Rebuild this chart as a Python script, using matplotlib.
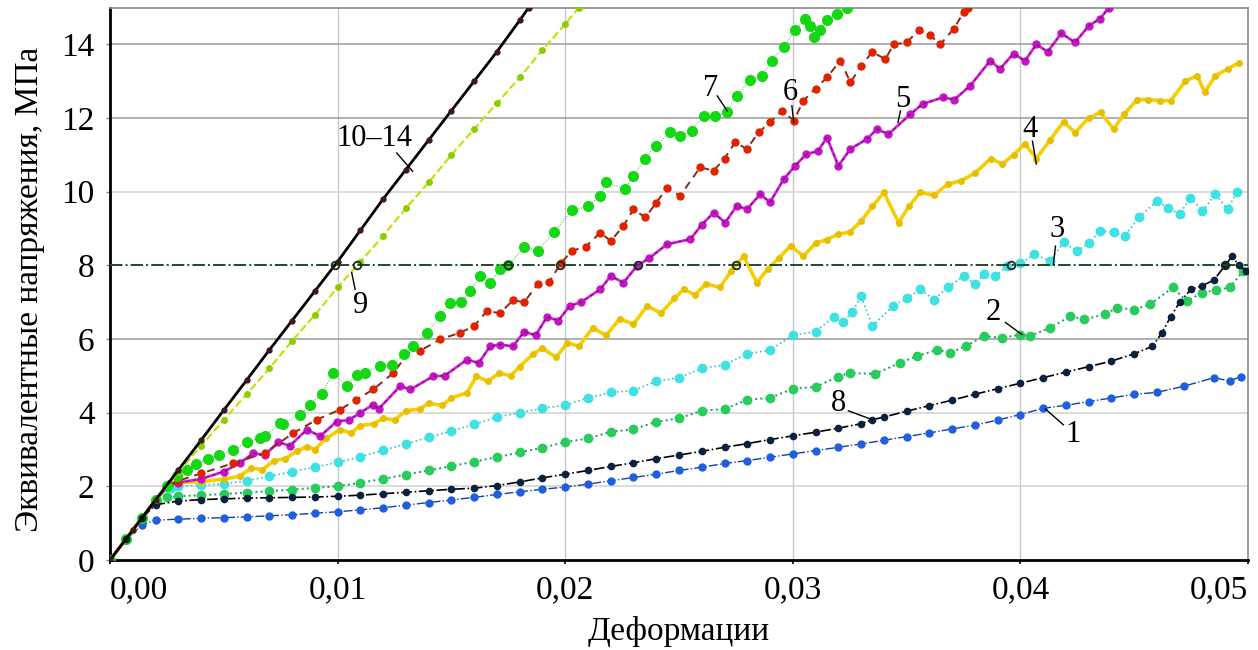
import matplotlib
matplotlib.use("Agg")
import matplotlib.pyplot as plt
import numpy as np

plt.rcParams['font.family'] = ['Liberation Serif', 'DejaVu Serif']

# strain values / equivalent stress (MPa)
x_1 = [0, 0.0007, 0.0014, 0.002, 0.003, 0.004, 0.005, 0.006, 0.007, 0.008, 0.009, 0.010,
       0.011, 0.012, 0.013, 0.014, 0.015, 0.016, 0.017, 0.018, 0.019, 0.020, 0.021, 0.022,
       0.023, 0.024, 0.025, 0.026, 0.027, 0.028, 0.029, 0.030, 0.031, 0.032, 0.033, 0.034,
       0.035, 0.036, 0.037, 0.038, 0.039, 0.040, 0.041, 0.042, 0.043, 0.044, 0.045, 0.046,
       0.0472, 0.0485, 0.0492, 0.0497]
y_1 = [0, 0.55, 0.95, 1.08, 1.11, 1.13, 1.15, 1.17, 1.2, 1.23, 1.27, 1.31,
       1.36, 1.42, 1.49, 1.56, 1.63, 1.7, 1.78, 1.85, 1.92, 1.98, 2.06, 2.15,
       2.24, 2.33, 2.43, 2.52, 2.62, 2.7, 2.79, 2.88, 2.97, 3.06, 3.15, 3.25,
       3.35, 3.45, 3.56, 3.66, 3.8, 3.95, 4.12, 4.2, 4.3, 4.4, 4.5, 4.55,
       4.72, 4.95, 4.86, 4.98]

x_2 = [0, 0.0007, 0.0014, 0.002, 0.0025, 0.003, 0.004, 0.005, 0.006, 0.007, 0.008, 0.009,
       0.010, 0.011, 0.012, 0.013, 0.014, 0.015, 0.016, 0.017, 0.018, 0.019, 0.020, 0.021,
       0.022, 0.023, 0.024, 0.025, 0.026, 0.027, 0.028, 0.029, 0.030, 0.031, 0.032, 0.0325,
       0.0336, 0.0347, 0.03545, 0.03634, 0.0369, 0.0376, 0.03838, 0.0392, 0.040, 0.0404,
       0.0413, 0.0422, 0.0428, 0.0437, 0.04425, 0.0450, 0.0457, 0.0467, 0.0473, 0.048,
       0.0486, 0.0492, 0.0498]
y_2 = [0, 0.57, 1.14, 1.6, 1.7, 1.73, 1.76, 1.79, 1.83, 1.87, 1.91, 1.96,
       2.0, 2.1, 2.2, 2.32, 2.43, 2.55, 2.67, 2.79, 2.92, 3.05, 3.2, 3.3,
       3.48, 3.55, 3.75, 3.85, 4.05, 4.1, 4.35, 4.4, 4.65, 4.7, 4.98, 5.08,
       5.05, 5.35, 5.53, 5.71, 5.63, 5.8, 6.08, 6.03, 6.12, 6.08,
       6.3, 6.62, 6.53, 6.67, 6.85, 6.8, 6.94, 7.4, 7.03, 7.26,
       7.33, 7.4, 7.85]

x_3 = [0, 0.0007, 0.0014, 0.002, 0.0027, 0.003, 0.004, 0.005, 0.006, 0.007, 0.008, 0.009,
       0.010, 0.011, 0.012, 0.013, 0.014, 0.015, 0.016, 0.017, 0.018, 0.019, 0.020, 0.021,
       0.022, 0.023, 0.024, 0.025, 0.026, 0.027, 0.028, 0.029, 0.030, 0.031, 0.0318, 0.0322,
       0.0326, 0.033, 0.0335, 0.0344, 0.035, 0.0356, 0.0362, 0.0368, 0.0375, 0.038, 0.0384,
       0.0389, 0.0394, 0.040, 0.0406, 0.0413, 0.0419, 0.0425, 0.043, 0.0435, 0.0441, 0.0446,
       0.0452, 0.046, 0.0465, 0.047, 0.04747, 0.048, 0.04857, 0.0491, 0.0495]
y_3 = [0, 0.57, 1.14, 1.63, 1.95, 2.0, 2.03, 2.07, 2.15, 2.27, 2.4, 2.52,
       2.65, 2.8, 2.98, 3.15, 3.33, 3.5, 3.68, 3.88, 4.0, 4.12, 4.2, 4.4,
       4.55, 4.6, 4.85, 4.95, 5.2, 5.3, 5.6, 5.7, 6.1, 6.2, 6.6, 6.45,
       6.72, 7.17, 6.35, 6.9, 7.1, 7.35, 7.07, 7.4, 7.71, 7.5, 7.76,
       7.7, 7.98, 8.05, 8.3, 8.12, 8.62, 8.39, 8.6, 8.93, 8.9, 8.8,
       9.3, 9.75, 9.55, 9.39, 9.84, 9.48, 9.93, 9.52, 9.98]

x_4 = [0, 0.0007, 0.0014, 0.002, 0.0026, 0.003, 0.004, 0.005, 0.0057, 0.0062, 0.0067, 0.0072,
       0.0077, 0.0082, 0.00865, 0.009, 0.0095, 0.0101, 0.0106, 0.011, 0.0116, 0.012, 0.0125,
       0.013, 0.0136, 0.014, 0.0146, 0.015, 0.01568, 0.0161, 0.0166, 0.0171, 0.0176, 0.018,
       0.0186, 0.019, 0.0196, 0.0201, 0.0206, 0.0212, 0.0218, 0.0224, 0.023, 0.0236, 0.0242,
       0.0248, 0.0252, 0.0257, 0.0262, 0.0268, 0.0273, 0.02784, 0.02842, 0.0289, 0.0294,
       0.0299, 0.03047, 0.031, 0.0315, 0.032, 0.0325, 0.033, 0.0335, 0.034, 0.03465, 0.0351,
       0.0356, 0.0362, 0.0368, 0.0374, 0.038, 0.0387, 0.0392, 0.0397, 0.0402, 0.0407, 0.0413,
       0.0419, 0.0424, 0.043, 0.04352, 0.0441, 0.04455, 0.04513, 0.0456, 0.04615, 0.0466,
       0.04725, 0.04776, 0.0481, 0.04857, 0.0491, 0.0496]
y_4 = [0, 0.57, 1.14, 1.63, 2.05, 2.1, 2.12, 2.2, 2.27, 2.5, 2.45, 2.7,
       2.75, 2.95, 3.08, 3.0, 3.3, 3.54, 3.45, 3.65, 3.7, 3.85, 3.8,
       4.05, 4.1, 4.25, 4.2, 4.4, 4.54, 4.99, 4.85, 5.08, 5.0, 5.25,
       5.6, 5.75, 5.5, 5.9, 5.8, 6.3, 6.1, 6.55, 6.4, 6.9, 6.7,
       7.1, 7.35, 7.2, 7.5, 7.4, 7.85, 8.25, 7.53, 7.9, 8.2,
       8.53, 8.25, 8.6, 8.7, 8.85, 8.9, 9.2, 9.6, 9.98, 9.16, 9.6,
       9.98, 9.9, 10.2, 10.3, 10.5, 10.9, 10.75, 11.0, 11.3, 10.9, 11.4,
       11.9, 11.6, 12.0, 12.15, 11.7, 12.1, 12.5, 12.5, 12.47, 12.47,
       13.0, 13.15, 12.7, 13.15, 13.33, 13.5]

x_5 = [0, 0.0007, 0.0014, 0.002, 0.0026, 0.003, 0.004, 0.005, 0.0057, 0.0063, 0.0068, 0.0074,
       0.0079, 0.00865, 0.00923, 0.00996, 0.0105, 0.011, 0.01157, 0.0118, 0.01275, 0.0132,
       0.0142, 0.0147, 0.01568, 0.0162, 0.0167, 0.01714, 0.0177, 0.0182, 0.0187, 0.0192,
       0.0197, 0.0202, 0.0207, 0.02154, 0.022, 0.02256, 0.02315, 0.0237, 0.02447, 0.0255,
       0.026, 0.02652, 0.02703, 0.02754, 0.02798, 0.02857, 0.029, 0.0296, 0.0301, 0.0306,
       0.0311, 0.0315, 0.032, 0.03253, 0.03326, 0.0337, 0.0342, 0.03516, 0.0357, 0.0366,
       0.0371, 0.0378, 0.03868, 0.0391, 0.0397, 0.0402, 0.0407, 0.0412, 0.0418, 0.0424,
       0.043, 0.0435, 0.0439]
y_5 = [0, 0.57, 1.14, 1.63, 2.05, 2.1, 2.2, 2.4, 2.63, 2.9, 2.85, 3.2,
       3.1, 3.54, 3.36, 3.76, 3.8, 4.0, 4.22, 4.1, 4.72, 4.63,
       4.99, 5.0, 5.44, 5.35, 5.8, 5.85, 5.8, 6.2, 6.1, 6.6,
       6.5, 6.9, 7.0, 7.35, 7.71, 7.53, 7.98, 8.2, 8.57, 8.71,
       9.1, 9.43, 9.16, 9.62, 9.52, 9.93, 9.71, 10.34, 10.7, 11.02,
       11.1, 11.47, 10.7, 11.16, 11.43, 11.7, 11.56, 12.1, 12.38, 12.56,
       12.5, 12.88, 13.56, 13.33, 13.75, 13.55, 14.0, 13.8, 14.3, 14.05,
       14.5, 14.7, 15.0]

x_6 = [0, 0.0007, 0.0014, 0.002, 0.0026, 0.003, 0.004, 0.00542, 0.0068, 0.00806, 0.00908,
       0.0101, 0.0108, 0.01157, 0.01245, 0.01333, 0.0136, 0.0145, 0.01538, 0.016, 0.01656,
       0.01714, 0.0177, 0.0182, 0.0188, 0.0193, 0.0198, 0.0203, 0.0209, 0.02154, 0.022,
       0.02256, 0.023, 0.02352, 0.024, 0.02447, 0.02505, 0.02593, 0.02652, 0.027, 0.02747,
       0.02798, 0.0285, 0.029, 0.02952, 0.03004, 0.03047, 0.031, 0.0315, 0.03209, 0.03253,
       0.033, 0.03348, 0.03407, 0.03443, 0.035, 0.03553, 0.03604, 0.03648, 0.03707, 0.03751,
       0.0377]
y_6 = [0, 0.57, 1.14, 1.63, 2.05, 2.15, 2.35, 2.63, 2.9, 3.45, 3.81,
       4.08, 4.35, 4.63, 5.08, 5.8, 5.67, 5.99, 6.17, 6.35, 6.76,
       6.7, 7.05, 7.0, 7.5, 7.55, 8.05, 8.4, 8.5, 8.89, 8.66,
       9.07, 9.52, 9.3, 9.7, 10.1, 9.89, 10.66, 10.57, 10.9, 11.34,
       11.16, 11.61, 11.88, 12.2, 11.93, 12.47, 12.8, 13.1, 13.56, 12.97,
       13.4, 13.79, 13.6, 14.0, 14.05, 14.38, 14.24, 14.0, 14.42, 14.87,
       15.0]

x_7 = [0, 0.0007, 0.0014, 0.002, 0.0025, 0.00293, 0.00337, 0.0038, 0.0043, 0.0048, 0.00542,
       0.006, 0.0066, 0.0068, 0.00747, 0.0076, 0.00835, 0.0088, 0.0093, 0.0098, 0.0104,
       0.01084, 0.0112, 0.01187, 0.0124, 0.0129, 0.01333, 0.01392, 0.0145, 0.01495, 0.0154,
       0.01582, 0.01626, 0.0167, 0.01714, 0.0175, 0.0182, 0.0188, 0.0195, 0.0203, 0.021,
       0.02154, 0.0218, 0.02264, 0.023, 0.0235, 0.024, 0.0246, 0.02505, 0.02557, 0.02608,
       0.02659, 0.0271, 0.02754, 0.02813, 0.02864, 0.02908, 0.0296, 0.03011, 0.03055, 0.03077,
       0.03091, 0.0312, 0.0315, 0.03194, 0.03238]
y_7 = [0, 0.57, 1.14, 1.63, 2.0, 2.27, 2.45, 2.6, 2.75, 2.85, 2.99,
       3.2, 3.31, 3.36, 3.72, 3.7, 3.95, 4.22, 4.5, 5.08, 4.72,
       5.03, 5.08, 5.26, 5.3, 5.58, 5.8, 6.17, 6.62, 6.98, 7.0,
       7.3, 7.71, 7.53, 7.89, 8.0, 8.5, 8.4, 8.9, 9.5, 9.6,
       9.89, 10.25, 10.07, 10.43, 10.9, 11.25, 11.61, 11.52, 11.66, 12.06,
       12.06, 12.15, 12.61, 13.02, 13.15, 13.56, 13.93, 14.38, 14.69, 14.51,
       14.2, 14.38, 14.65, 14.83, 15.0]

x_8 = [0, 0.0007, 0.0014, 0.002, 0.003, 0.004, 0.005, 0.006, 0.007, 0.008, 0.009, 0.010,
       0.011, 0.012, 0.013, 0.014, 0.015, 0.016, 0.017, 0.018, 0.019, 0.020, 0.021, 0.022,
       0.023, 0.024, 0.025, 0.026, 0.027, 0.028, 0.029, 0.030, 0.031, 0.032, 0.033, 0.0335,
       0.034, 0.035, 0.036, 0.037, 0.038, 0.039, 0.040, 0.041, 0.042, 0.043, 0.044, 0.045,
       0.0458, 0.0462, 0.0466, 0.047, 0.0475, 0.048, 0.0485, 0.049, 0.0493, 0.0496, 0.0499]
y_8 = [0, 0.57, 1.14, 1.5, 1.6, 1.64, 1.66, 1.68, 1.69, 1.7, 1.71, 1.73,
       1.76, 1.8, 1.84, 1.88, 1.92, 1.95, 2.02, 2.12, 2.23, 2.33, 2.43, 2.54,
       2.64, 2.75, 2.85, 2.95, 3.06, 3.16, 3.27, 3.37, 3.47, 3.58, 3.7, 3.81,
       3.88, 4.04, 4.19, 4.34, 4.5, 4.65, 4.8, 4.95, 5.1, 5.25, 5.4, 5.6,
       5.8, 6.15, 6.6, 7.0, 7.35, 7.45, 7.6, 8.0, 8.25, 8.0, 7.85]

x_9 = [0, 0.001, 0.002, 0.003, 0.004, 0.005, 0.006, 0.007, 0.008, 0.009, 0.010, 0.011,
       0.012, 0.013, 0.014, 0.015, 0.016, 0.017, 0.018, 0.019, 0.020, 0.0206]
y_9 = [0, 0.81, 1.63, 2.38, 3.1, 3.8, 4.5, 5.2, 5.95, 6.65, 7.4, 8.1,
       8.8, 9.55, 10.25, 11.0, 11.7, 12.4, 13.1, 13.85, 14.55, 15.0]

x_10 = [0, 0.001, 0.002, 0.003, 0.004, 0.005, 0.006, 0.007, 0.008, 0.009, 0.010, 0.011,
        0.012, 0.013, 0.014, 0.015, 0.016, 0.017, 0.018, 0.0184]
y_10 = [0, 0.81, 1.63, 2.44, 3.25, 4.07, 4.88, 5.7, 6.5, 7.3, 8.1, 8.95,
        9.8, 10.6, 11.4, 12.2, 13.0, 13.8, 14.65, 15.0]

limit_stress = 8
xticks = [0, 0.01, 0.02, 0.03, 0.04, 0.05]
xtick_labels = ['0,00', '0,01', '0,02', '0,03', '0,04', '0,05']
yticks = [0, 2, 4, 6, 8, 10, 12, 14]
curve_labels = ['1', '2', '3', '4', '5', '6', '7', '8', '9', '10–14']

fig = plt.figure(figsize=(12.58, 6.5), dpi=100)
ax = fig.add_axes([110 / 1258, 90 / 650, 1138 / 1258, 552.5 / 650])

# grid
for xv in xticks[1:-1]:
    ax.axvline(xv, color='#c8c8c8', lw=1, zorder=0)
for yv in yticks[1:]:
    if yv == limit_stress:
        continue
    c = '#9a9a9a' if yv in (6, 12, 14) else '#d2d2d2'
    ax.axhline(yv, color=c, lw=1.1, zorder=0)

# curves
ax.plot(x_1, y_1, color='#1240a8', lw=1, ls='-.', marker='o', ms=5,
        mfc='#1e5ee0', mec='#1e5ee0', zorder=3)
ax.plot(x_2, y_2, color='#159c70', lw=1.4, ls=':', marker='o', ms=6,
        mfc='#28cc5a', mec='#28cc5a', zorder=3)
ax.plot(x_3, y_3, color='#2cc8c8', lw=1.2, ls=':', marker='o', ms=6,
        mfc='#3ee2e2', mec='#3ee2e2', zorder=3)
ax.plot(x_4, y_4, color='#f5cf00', lw=2.6, ls='-', marker='o', ms=4,
        mfc='#e8bf00', mec='#e8bf00', zorder=3)
ax.plot(x_5, y_5, color='#d622d6', lw=2, ls='-', marker='o', ms=5,
        mfc='#c414c4', mec='#c414c4', zorder=3)
ax.plot(x_5, y_5, color='#501050', lw=0.6, ls=(0, (4, 4)), zorder=3)
ax.plot(x_6, y_6, color='#8a2a10', lw=1.4, ls=(0, (4, 3)), marker='o', ms=5,
        mfc='#e02200', mec='#e02200', zorder=3)
ax.plot(x_7, y_7, color='#3cb43c', lw=0.7, ls=':', marker='o', ms=7,
        mfc='#14d814', mec='#14d814', zorder=3)
ax.plot(x_8, y_8, color='#000000', lw=1.2, ls='-.', marker='o', ms=4.5,
        mfc='#0c2040', mec='#0c2040', zorder=4)
ax.plot(x_9, y_9, color='#c4e000', lw=1.5, ls='--', marker='o', ms=4,
        mfc='#8ccc00', mec='#8ccc00', zorder=4)
ax.plot(x_10, y_10, color='#000000', lw=2, ls='-', marker='o', ms=3.5,
        mfc='#401818', mec='#401818', zorder=5)

# 8 MPa level and crossing points
ax.axhline(limit_stress, color='#1e4a28', lw=1.4, ls='-.', zorder=6)
for xs, ys in [(x_1, y_1), (x_2, y_2), (x_3, y_3), (x_4, y_4), (x_5, y_5),
               (x_6, y_6), (x_7, y_7), (x_8, y_8), (x_9, y_9), (x_10, y_10)]:
    ys = np.asarray(ys)
    idx = np.nonzero(ys >= limit_stress)[0]
    if len(idx) == 0:
        continue
    i = idx[0]
    xc = np.interp(limit_stress, [ys[i - 1], ys[i]], [xs[i - 1], xs[i]])
    ax.plot(xc, limit_stress, 'o', ms=5.5, mfc='none', mec='#1a2a1a', mew=1.3, zorder=7)

# curve numbers with leader lines (text pos, line start, line end)
label_spots = {
    '10–14': ((0.0116, 11.43), (0.0126, 11.05), (0.0133, 10.55)),
    '9': ((0.0110, 6.9), (0.01077, 7.35), (0.01062, 7.8)),
    '7': ((0.02637, 12.8), (0.02668, 12.6), (0.02712, 12.19)),
    '6': ((0.02989, 12.7), (0.02996, 12.33), (0.03004, 11.88)),
    '5': ((0.03481, 12.5), (0.03473, 12.19), (0.03462, 11.88)),
    '4': ((0.04044, 11.7), (0.04053, 11.37), (0.0407, 10.75)),
    '3': ((0.04163, 8.98), (0.04154, 8.52), (0.04145, 8.03)),
    '2': ((0.03881, 6.72), (0.03934, 6.45), (0.04007, 6.12)),
    '1': ((0.04229, 3.4), (0.04189, 3.67), (0.0411, 4.1)),
    '8': ((0.0320, 4.24), (0.03244, 4.05), (0.03349, 3.81)),
}
for lab in curve_labels:
    tpos, p0, p1 = label_spots[lab]
    ax.text(tpos[0], tpos[1], lab, fontsize=22, ha='center', va='center', zorder=8)
    ax.plot([p0[0], p1[0]], [p0[1], p1[1]], color='black', lw=1, zorder=8)

ax.set_xlim(0, 0.05)
ax.set_ylim(0, 15)
ax.set_xticks(xticks)
ax.set_xticklabels(xtick_labels, fontsize=24)
ax.set_yticks(yticks)
ax.set_yticklabels([str(v) for v in yticks], fontsize=24)
lbls = ax.get_xticklabels()
lbls[0].set_ha('left')
lbls[-1].set_ha('right')
ax.tick_params(axis='x', length=3, width=1.2, pad=8, direction='out')
ax.tick_params(axis='y', length=3, width=1, pad=8, direction='out', color='#888888')

for side in ('left', 'bottom'):
    ax.spines[side].set_linewidth(2)
    ax.spines[side].set_color('black')
for side in ('top', 'right'):
    ax.spines[side].set_linewidth(1.2)
    ax.spines[side].set_color('#8a8a8a')

ax.set_xlabel('Деформации', fontsize=24, va='center')
ax.xaxis.set_label_coords(0.5, -0.130)
ax.set_ylabel('Эквивалентные напряжения, МПа', fontsize=24, va='center')
ax.yaxis.set_label_coords(-0.0703, 0.49)

fig.savefig('out.png', dpi=100)
